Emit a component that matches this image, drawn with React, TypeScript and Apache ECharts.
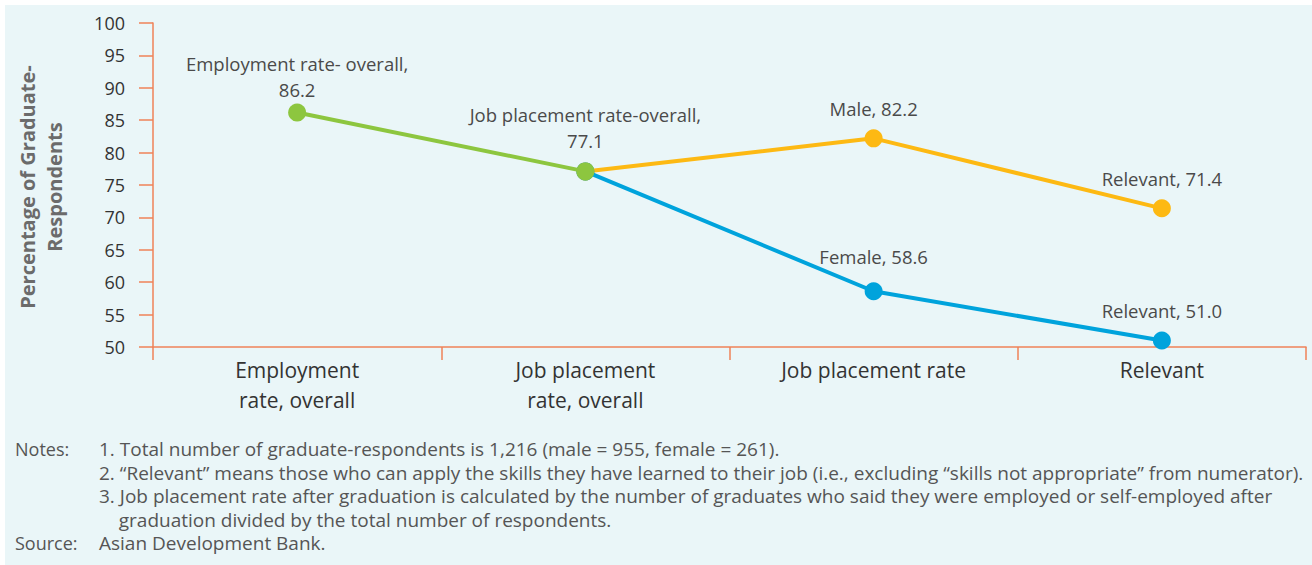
import React, { useEffect, useRef } from "react";
import * as echarts from "echarts";

const categories = [
  "Employment\nrate, overall",
  "Job placement\nrate, overall",
  "Job placement rate",
  "Relevant",
];
const overallValues = [86.2, 77.1, null, null];
const maleValues = [null, 77.1, 82.2, 71.4];
const femaleValues = [null, 77.1, 58.6, 51.0];
const overallLabels = ["Employment rate- overall,\n", "Job placement rate-overall,\n", "", ""];
const maleLabels = ["", "", "Male, ", "Relevant, "];
const femaleLabels = ["", "", "Female, ", "Relevant, "];
const yTicks = { min: 50, max: 100, interval: 5 };
const yAxisTitle = "Percentage of Graduate-\nRespondents";
const noteLines = [
  { label: "Notes:", text: "1. Total number of graduate-respondents is 1,216 (male = 955, female = 261)." },
  { label: "", text: "2. \u201CRelevant\u201D means those who can apply the skills they have learned to their job (i.e., excluding \u201Cskills not appropriate\u201D from numerator)." },
  { label: "", text: "3. Job placement rate after graduation is calculated by the number of graduates who said they were employed or self-employed after" },
  { label: "", text: "    graduation divided by the total number of respondents." },
  { label: "Source:", text: "Asian Development Bank." },
];

const FONT = "'Open Sans', Lato, sans-serif";
const AXIS_COLOR = "#ef8259";

function buildData(values: (number | null)[], labels: string[], distances: number[]) {
  return values.map((v, i) => {
    if (v === null) return null;
    if (!labels[i]) return { value: v, label: { show: false } };
    return {
      value: v,
      label: {
        show: true,
        position: "top",
        distance: distances[i],
        formatter: labels[i] + v.toFixed(1),
      },
    };
  });
}

export default function App() {
  const ref = useRef<HTMLDivElement>(null);
  useEffect(() => {
    document.body.style.margin = "0";
    const chart = echarts.init(ref.current!, null, { renderer: "svg" });
    const labelStyle = {
      color: "#4a4a4a",
      fontSize: 18.5,
      fontFamily: FONT,
      lineHeight: 26,
    };
    const graphics: any[] = [
      {
        type: "rect",
        z: -10,
        silent: true,
        shape: { x: 5, y: 5, width: 1307, height: 560 },
        style: { fill: "#eaf6f8" },
      },
      {
        type: "text",
        x: 41,
        y: 187,
        rotation: Math.PI / 2,
        style: {
          text: yAxisTitle,
          fill: "#6b6b6b",
          font: `bold 20px ${FONT}`,
          align: "center",
          verticalAlign: "middle",
          lineHeight: 27,
        },
      },
    ];
    noteLines.forEach((n, i) => {
      const y = 449 + i * 23.5;
      if (n.label) {
        graphics.push({
          type: "text",
          x: 15,
          y,
          style: { text: n.label, fill: "#555", font: `18px ${FONT}`, verticalAlign: "middle" },
        });
      }
      graphics.push({
        type: "text",
        x: 99,
        y,
        style: { text: n.text, fill: "#555", font: `19px ${FONT}`, verticalAlign: "middle" },
      });
    });
    chart.setOption({
      animation: false,
      backgroundColor: "transparent",
      grid: { left: 153, right: 6, top: 23, bottom: 218, containLabel: false },
      xAxis: {
        type: "category",
        data: categories,
        boundaryGap: true,
        axisLine: { lineStyle: { color: AXIS_COLOR, width: 1.5 } },
        axisTick: { show: true, length: 13, lineStyle: { color: AXIS_COLOR, width: 1.5 } },
        axisLabel: {
          color: "#333",
          fontSize: 21,
          fontFamily: FONT,
          lineHeight: 30,
          margin: 8,
          interval: 0,
        },
        splitLine: { show: false },
      },
      yAxis: {
        type: "value",
        min: yTicks.min,
        max: yTicks.max,
        interval: yTicks.interval,
        axisLine: { show: true, lineStyle: { color: AXIS_COLOR, width: 1.5 } },
        axisTick: { show: true, length: 14, lineStyle: { color: AXIS_COLOR, width: 1.5 } },
        axisLabel: { color: "#333", fontSize: 18, fontFamily: FONT, margin: 28 },
        splitLine: { show: false },
      },
      graphic: graphics,
      series: [
        {
          type: "line",
          data: buildData(maleValues, maleLabels, [0, 0, 8, 8]),
          color: "#fdb913",
          lineStyle: { width: 4, color: "#fdb913" },
          symbol: "circle",
          symbolSize: 18,
          itemStyle: { color: "#fdb913" },
          label: labelStyle,
          z: 2,
        },
        {
          type: "line",
          data: buildData(femaleValues, femaleLabels, [0, 0, 13, 8]),
          color: "#00a3dc",
          lineStyle: { width: 4, color: "#00a3dc" },
          symbol: "circle",
          symbolSize: 18,
          itemStyle: { color: "#00a3dc" },
          label: labelStyle,
          z: 3,
        },
        {
          type: "line",
          data: buildData(overallValues, overallLabels, [1, 9, 0, 0]),
          color: "#8dc63f",
          lineStyle: { width: 4, color: "#8dc63f" },
          symbol: "circle",
          symbolSize: 18,
          itemStyle: { color: "#8dc63f" },
          label: labelStyle,
          z: 4,
        },
      ],
    });
    return () => chart.dispose();
  }, []);
  return <div ref={ref} style={{ width: 1312, height: 565, background: "#fff" }} />;
}
